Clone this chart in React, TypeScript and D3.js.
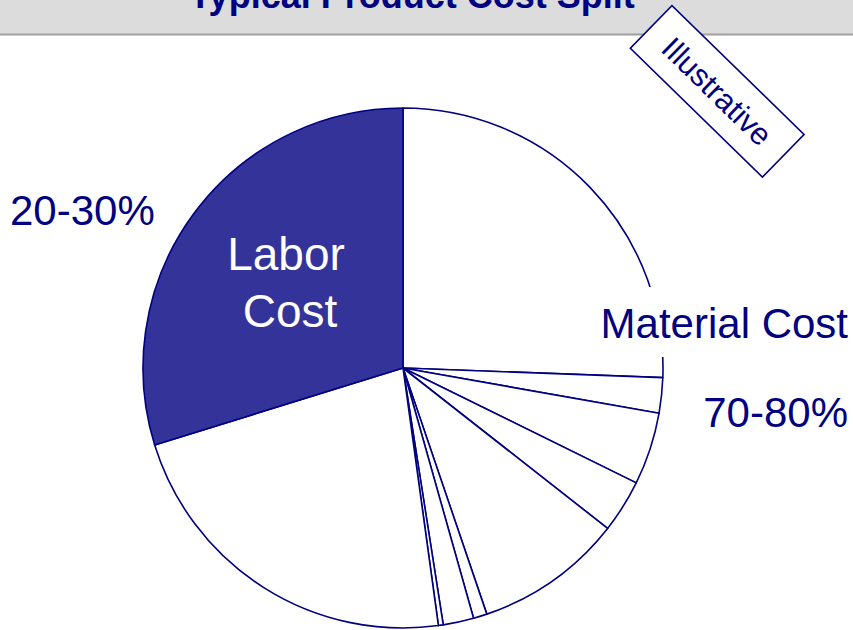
import React from "react";
import * as d3 from "d3";

const sliceNames = ["Material A", "Material B", "Material C", "Material D", "Material E", "Material F", "Material G", "Material H", "Material I", "Labor Cost"];
const sliceValues = [25.6, 2.2, 4.5, 3.3, 9.2, 0.85, 1.9, 0.3, 22.4, 29.8];
const title = "Typical Product Cost Split";
const laborLabel = ["Labor", "Cost"];
const laborRange = "20-30%";
const materialLabel = "Material Cost";
const materialRange = "70-80%";
const stampText = "Illustrative";

const W = 853;
const H = 630;
const NAVY = "#000080";

export default function App() {
  const cx = 403, cy = 368, r = 260;
  const data = sliceNames.map((n, i) => ({ name: n, value: sliceValues[i] }));
  const pie = d3.pie<any>().value((d: any) => d.value).sort(null).startAngle(0).endAngle(2 * Math.PI);
  const arc = d3.arc<any>().innerRadius(0).outerRadius(r);
  const arcs = pie(data);

  return (
    <svg width={W} height={H} style={{ position: "absolute", left: 0, top: 0, background: "#fff" }}
      fontFamily="'Liberation Sans', Arial, sans-serif">
      <rect x={0} y={0} width={W} height={H} fill="#fff" />
      <rect x={0} y={0} width={W} height={34} fill="#dcdcdc" />
      <rect x={0} y={33.5} width={W} height={2} fill="#a0a0a0" />
      <text x={412} y={8} textAnchor="middle" fontSize={36} fontWeight="bold" fill={NAVY}>{title}</text>

      <g transform={`translate(${cx},${cy})`}>
        {arcs.map((a, i) => (
          <path key={i} d={arc(a) as string}
            fill={a.data.name === "Labor Cost" ? "#333399" : "#fff"}
            stroke={NAVY} strokeWidth={1.6} strokeLinejoin="round" />
        ))}
      </g>

      <rect x={592} y={287} width={261} height={70} fill="#fff" />
      <text x={848} y={338} textAnchor="end" fontSize={42} fill={NAVY}>{materialLabel}</text>
      <text x={848} y={427} textAnchor="end" fontSize={42} fill={NAVY}>{materialRange}</text>
      <text x={10} y={225} fontSize={42} fill={NAVY}>{laborRange}</text>
      <text x={286} y={270} textAnchor="middle" fontSize={46} fill="#fff">{laborLabel[0]}</text>
      <text x={290} y={327} textAnchor="middle" fontSize={46} fill="#fff">{laborLabel[1]}</text>

      <g transform="translate(717.2,91.3) rotate(44.3)">
        <rect x={-92.3} y={-29.8} width={184.6} height={59.6} fill="#fff" stroke={NAVY} strokeWidth={1.6} />
        <text x={0} y={11} textAnchor="middle" fontSize={31} fill={NAVY}>{stampText}</text>
      </g>
    </svg>
  );
}
